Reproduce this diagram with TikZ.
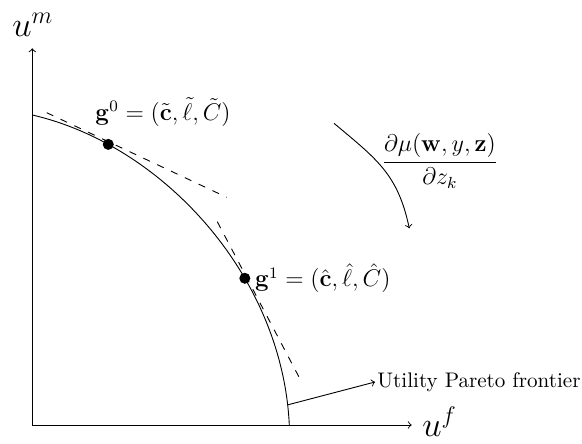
\documentclass[tikz,border=0pt]{standalone}
\usepackage{amsmath}
\begin{document}
\begin{tikzpicture}[x=0.0175cm,y=0.0175cm,
  axis/.style={->,line width=0.45pt},
  frontier/.style={line width=0.45pt},
  tangent/.style={line width=0.45pt,dash pattern=on 3.6pt off 4pt},
  dot/.style={circle,fill=black,inner sep=0pt,minimum size=5.5pt},
  lbl/.style={inner sep=1pt,font=\large},
  axlbl/.style={inner sep=0pt,font=\LARGE,anchor=base west},
  pointer/.style={->,line width=0.45pt}]
\useasboundingbox (0,0) rectangle (582,443);
% axes
\coordinate (O) at (32.3,18);
\coordinate (ytop) at (32.3,394.7);
\coordinate (xend) at (411.7,18);
\draw[axis] (O) -- (ytop);
\draw[axis] (O) -- (xend);
\node[axlbl] (um) at (12,407) {$u^m$};
\node[axlbl] (uf) at (422,7) {$u^f$};
% frontier
\coordinate (fa) at (32.3,328);
\coordinate (fb) at (289.3,18);
\draw[frontier] (fa) .. controls (162.3,298) and (282.3,168) .. (fb)
  coordinate[pos=0.2] (p0) coordinate[pos=0.65] (p1) coordinate[pos=0.955] (pf);
% tangents
\coordinate (t0a) at (46.7,330.3);
\coordinate (t0b) at (226.7,245.7);
\coordinate (t1a) at (217.3,221.3);
\coordinate (t1b) at (302.3,59.7);
\draw[tangent] (t0a) -- (t0b);
\draw[tangent] (t1a) -- (t1b);
% points
\node[dot] (g0) at (p0) {};
\node[dot] (g1) at (p1) {};
\node[lbl] (g0l) at (163,331) {$\mathbf{g}^0 = (\tilde{\mathbf{c}}, \tilde{\ell}, \tilde{C})$};
\node[lbl,anchor=west] (g1l) at ([xshift=1pt]g1.east) {$\mathbf{g}^1 = (\hat{\mathbf{c}}, \hat{\ell}, \hat{C})$};
% derivative arrow
\coordinate (da) at (334,319.7);
\coordinate (db) at (409.3,214.7);
\draw[pointer] (da) to[out=-40,in=102,looseness=1.1] (db);
\node[lbl] (frac) at (440,282) {$\dfrac{\partial\mu(\mathbf{w},y,\mathbf{z})}{\partial z_k}$};
% pareto label
\node[inner sep=1pt,anchor=west,font=\fontsize{10.5}{12}\selectfont] (pareto) at (375,61) {Utility Pareto frontier};
\draw[pointer] (pf) -- (pareto.west);
\end{tikzpicture}
\end{document}
